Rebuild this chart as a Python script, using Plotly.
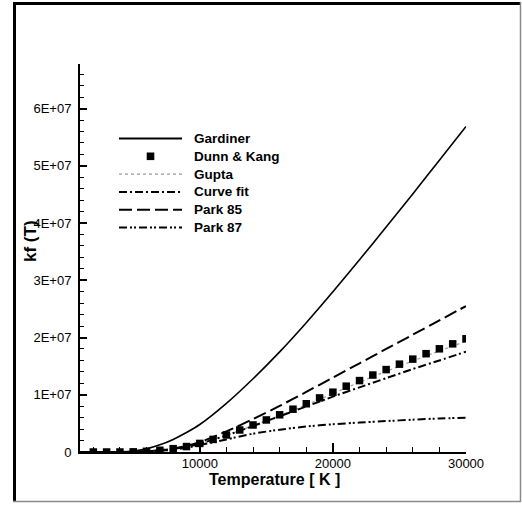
import plotly.graph_objects as go

# Temperature grid [K] used for the continuous rate curves
temperature = [1000, 2000, 3000, 4000, 5000, 6000, 7000, 8000, 9000, 10000,
               12000, 14000, 16000, 18000, 20000, 22000, 24000, 26000, 28000, 30000]

gardiner = [0, 0, 0, 2e4, 1.5e5, 5.5e5, 1.25e6, 2.2e6, 3.4e6, 4.8e6,
            8.5e6, 1.28e7, 1.75e7, 2.26e7, 2.8e7, 3.36e7, 3.93e7, 4.51e7, 5.1e7, 5.69e7]
gupta = [0, 0, 0, 0, 3e4, 1.2e5, 2.8e5, 5.6e5, 9.2e5, 1.45e6,
         2.9e6, 4.6e6, 6.35e6, 8.25e6, 1.02e7, 1.22e7, 1.41e7, 1.59e7, 1.765e7, 1.935e7]
curve_fit = [0, 0, 0, 0, 3e4, 1.0e5, 2.7e5, 5.5e5, 9.0e5, 1.45e6,
             2.9e6, 4.55e6, 6.25e6, 7.95e6, 9.67e6, 1.13e7, 1.29e7, 1.45e7, 1.6e7, 1.754e7]
park_85 = [0, 0, 0, 0, 3e4, 1.2e5, 3.0e5, 6.0e5, 1.05e6, 1.7e6,
           3.6e6, 5.75e6, 8.05e6, 1.05e7, 1.3e7, 1.55e7, 1.8e7, 2.05e7, 2.3e7, 2.55e7]
park_87 = [0, 0, 0, 0, 3e4, 1.0e5, 2.2e5, 4.0e5, 7.5e5, 1.2e6,
           2.2e6, 3.2e6, 3.9e6, 4.45e6, 4.85e6, 5.15e6, 5.4e6, 5.65e6, 5.85e6, 6.0e6]

# Dunn & Kang tabulated points
dk_temperature = [2000, 3000, 4000, 5000, 6000, 7000, 8000, 9000, 10000, 11000,
                  12000, 13000, 14000, 15000, 16000, 17000, 18000, 19000, 20000, 21000,
                  22000, 23000, 24000, 25000, 26000, 27000, 28000, 29000, 30000]
dunn_kang = [0, 0, 0, 3e4, 1.2e5, 3.0e5, 5.8e5, 9.5e5, 1.5e6, 2.2e6,
             2.98e6, 3.85e6, 4.72e6, 5.6e6, 6.5e6, 7.48e6, 8.43e6, 9.45e6, 1.045e7, 1.15e7,
             1.248e7, 1.345e7, 1.44e7, 1.535e7, 1.623e7, 1.718e7, 1.803e7, 1.89e7, 1.978e7]

y_tick_vals = [0, 1e7, 2e7, 3e7, 4e7, 5e7, 6e7]
y_tick_text = ["0", "1E+07", "2E+07", "3E+07", "4E+07", "5E+07", "6E+07"]
x_tick_vals = [10000, 20000, 30000]
x_tick_text = ["10000", "20000", "30000"]

legend_names = ["Gardiner", "Dunn & Kang", "Gupta", "Curve fit", "Park 85", "Park 87"]

FONT = "Liberation Sans, Arial, sans-serif"
W, H = 522, 508
ML, MR, MT, MB = 80, 56, 64, 56
PW, PH = W - ML - MR, H - MT - MB


def px(x):
    return (x - ML) / PW


def py(y):
    return (H - MB - y) / PH


DASH_85 = "13px,5px"
DASH_FIT = "8px,3px,2px,3px"
DASH_87 = "8px,3px,2px,2px,2px,3px"

fig = go.Figure()
common = dict(mode="lines", line_shape="spline", showlegend=False)
fig.add_trace(go.Scatter(x=temperature, y=gardiner, name="Gardiner",
                         line=dict(color="black", width=1.6, smoothing=0.6), **common))
fig.add_trace(go.Scatter(x=temperature, y=gupta, name="Gupta",
                         line=dict(color="#9a9a9a", width=1.2, dash="dot", smoothing=0.6), **common))
fig.add_trace(go.Scatter(x=temperature, y=curve_fit, name="Curve fit",
                         line=dict(color="black", width=2, dash=DASH_FIT, smoothing=0.6), **common))
fig.add_trace(go.Scatter(x=temperature, y=park_85, name="Park 85",
                         line=dict(color="black", width=2, dash=DASH_85, smoothing=0.6), **common))
fig.add_trace(go.Scatter(x=temperature, y=park_87, name="Park 87",
                         line=dict(color="black", width=2, dash=DASH_87, smoothing=0.6), **common))
fig.add_trace(go.Scatter(x=dk_temperature, y=dunn_kang, name="Dunn & Kang", mode="markers",
                         marker=dict(symbol="square", size=7.5, color="black"),
                         showlegend=False))

shapes = []
annotations = []

# Hand-built legend block
row_y = [138.5, 156.3, 174.1, 191.9, 209.7, 227.5]
line_x0, line_x1, text_x = 119, 182, 192
styles = [
    dict(color="black", width=2, dash="solid"),
    None,
    dict(color="#9a9a9a", width=1.2, dash="dot"),
    dict(color="black", width=2, dash=DASH_FIT),
    dict(color="black", width=2, dash=DASH_85),
    dict(color="black", width=2, dash=DASH_87),
]
for name, yy, st in zip(legend_names, row_y, styles):
    if st is None:
        cx = (line_x0 + line_x1) / 2
        shapes.append(dict(type="rect", xref="paper", yref="paper",
                           x0=px(cx - 3.8), x1=px(cx + 3.8), y0=py(yy + 3.8), y1=py(yy - 3.8),
                           fillcolor="black", line=dict(width=0)))
    else:
        shapes.append(dict(type="line", xref="paper", yref="paper",
                           x0=px(line_x0), x1=px(line_x1), y0=py(yy), y1=py(yy), line=st))
    annotations.append(dict(text=name, xref="paper", yref="paper", x=px(text_x), y=py(yy),
                            xanchor="left", yanchor="middle", showarrow=False,
                            font=dict(family=FONT, size=13.5, color="black", weight="bold")))

# Axis titles
annotations.append(dict(text="kf (T)", xref="paper", yref="paper", x=px(30), y=py(241),
                        xanchor="center", yanchor="middle", textangle=-90, showarrow=False,
                        font=dict(family=FONT, size=17, color="black", weight="bold")))
annotations.append(dict(text="Temperature [ K ]", xref="paper", yref="paper", x=px(274), y=py(479),
                        xanchor="center", yanchor="middle", showarrow=False,
                        font=dict(family=FONT, size=16, color="black", weight="bold")))

# Frame around the whole figure
shapes += [
    dict(type="line", xref="paper", yref="paper", x0=px(14.5), x1=px(14.5), y0=py(2), y1=py(502),
         line=dict(color="black", width=3)),
    dict(type="line", xref="paper", yref="paper", x0=px(13), x1=px(521), y0=py(3.5), y1=py(3.5),
         line=dict(color="black", width=3)),
    dict(type="line", xref="paper", yref="paper", x0=px(13), x1=px(521), y0=py(501.5), y1=py(501.5),
         line=dict(color="#8a8a8a", width=1.5)),
    dict(type="line", xref="paper", yref="paper", x0=px(520.5), x1=px(520.5), y0=py(2), y1=py(502),
         line=dict(color="#8a8a8a", width=1.5)),
]

fig.update_layout(
    width=W, height=H,
    margin=dict(l=ML, r=MR, t=MT, b=MB, pad=0),
    paper_bgcolor="white", plot_bgcolor="white",
    font=dict(family=FONT, size=13, color="black"),
    shapes=shapes, annotations=annotations,
    xaxis=dict(range=[1000, 30000], showgrid=False, zeroline=False,
               showline=True, linecolor="black", linewidth=2,
               tickmode="array", tickvals=x_tick_vals, ticktext=x_tick_text,
               ticks="inside", ticklen=9, tickwidth=2, tickcolor="black",
               ticklabelstandoff=-2,
               minor=dict(tickmode="linear", tick0=0, dtick=2000, ticks="inside",
                          ticklen=5, tickwidth=1, tickcolor="black")),
    yaxis=dict(range=[0, 6.78e7], showgrid=False, zeroline=False,
               showline=True, linecolor="black", linewidth=2,
               tickmode="array", tickvals=y_tick_vals, ticktext=y_tick_text,
               ticks="inside", ticklen=7, tickwidth=2, tickcolor="black",
               ticklabelstandoff=4,
               minor=dict(tickmode="linear", tick0=0, dtick=2e6, ticks="inside",
                          ticklen=4, tickwidth=1, tickcolor="black")),
)

fig.write_html("out.html")
